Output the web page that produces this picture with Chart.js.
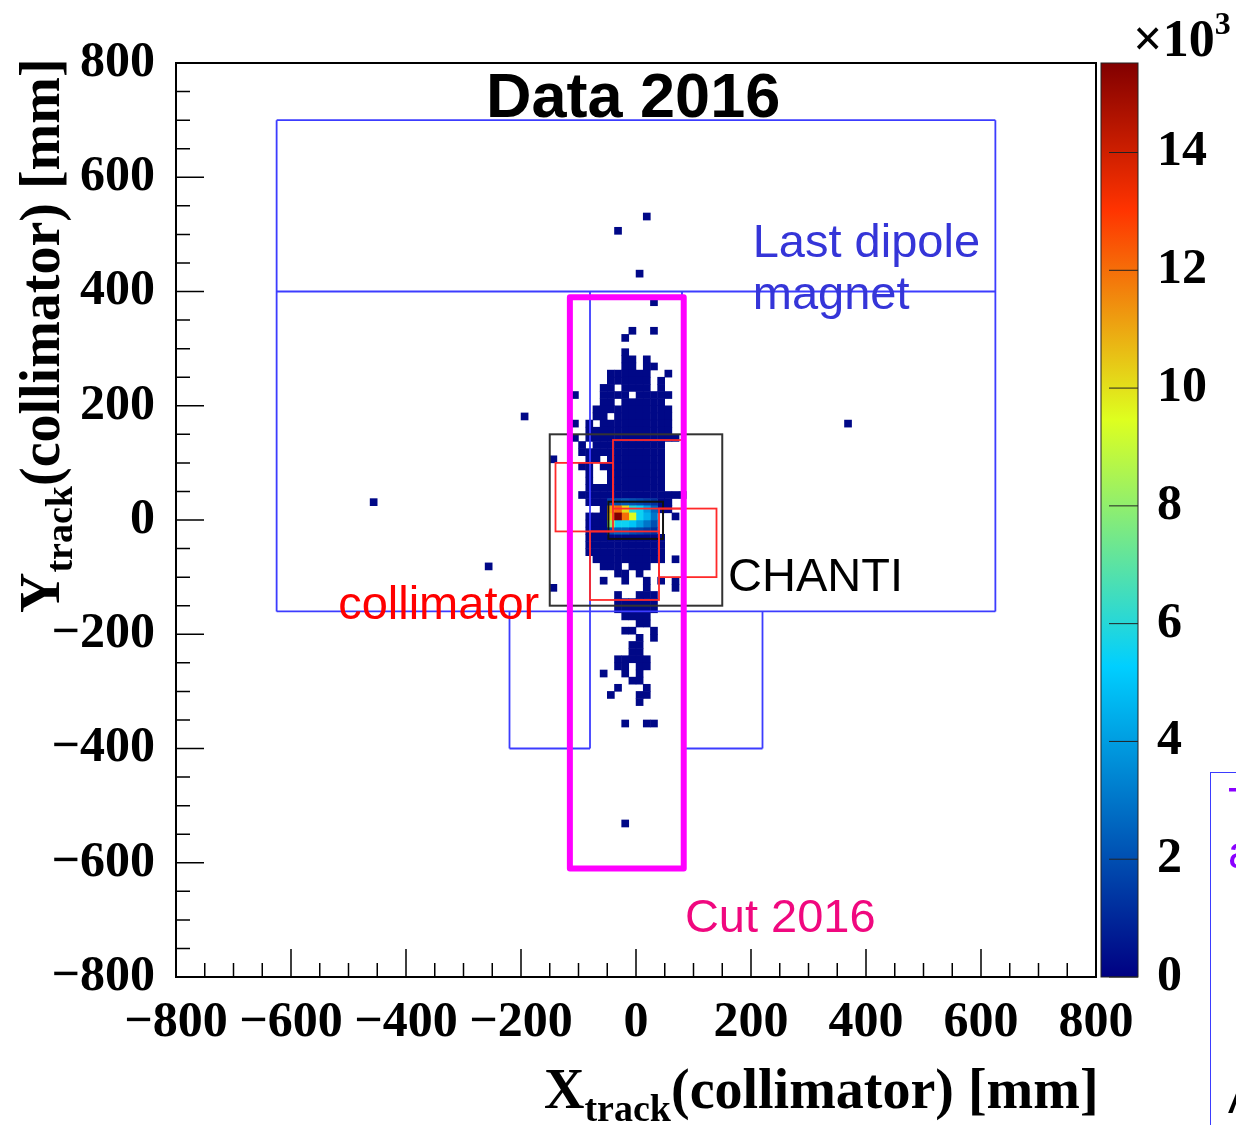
<!DOCTYPE html>
<html>
<head>
<meta charset="utf-8">
<script src="https://cdn.jsdelivr.net/npm/chart.js@4.4.1/dist/chart.umd.min.js"></script>
<style>
  html, body { margin: 0; padding: 0; background: #fff; overflow: hidden; }
  #wrap { position: relative; width: 1236px; height: 1125px; overflow: hidden; }
  #plot { position: absolute; left: 0; top: 0; }
  .serif { position: absolute; white-space: nowrap; color: #000;
           font-family: 'Liberation Serif', 'Times New Roman', serif; font-weight: bold; }
  #ytitle { left: 12px; top: 613px; font-size: 56px; line-height: 56px;
            transform-origin: left top; transform: rotate(-90deg); }
  #xtitle { left: 544px; top: 1061px; font-size: 56px; line-height: 56px; }
  .sub { font-size: 38px; position: relative; top: 13px; }
  #zexp { left: 1133px; top: 1px; font-size: 52px; line-height: 52px; }
  #zexp sup { font-size: 32px; position: relative; top: -4px; }
  #sidebox { position: absolute; left: 1210px; top: 772px; width: 300px; height: 420px;
             border: 1.5px solid #3b3bff; font-family: 'Liberation Sans', Arial, sans-serif; font-size: 46px; }
  #sidebox div { position: absolute; left: 17px; }
</style>
</head>
<body>
<div id="wrap">
  <canvas id="plot" width="1236" height="1125"></canvas>
  <div class="serif" id="ytitle">Y<span class="sub">track</span>(collimator) [mm]</div>
  <div class="serif" id="xtitle">X<span class="sub">track</span>(collimator) [mm]</div>
  <div class="serif" id="zexp">&times;10<sup>3</sup></div>
  <div id="sidebox">
    <div style="top:4px;color:#8a00ff;">T</div>
    <div style="top:52px;color:#8a00ff;">a</div>
    <div style="top:297px;color:#000;">A</div>
  </div>
</div>
<script>
// histogram binning (mm)
const binWidth = 12.5;
const gridLeft = -112.5;   // left edge of the first character column
const gridTopRow = 30;     // bin row index of the first string (row j covers 12.5*j .. 12.5*(j+1))

// occupied low-count bins of the beam spot, rows from top to bottom ('#' = filled)
const occupancy = [
  "...........#.....",
  ".................",
  ".................",
  ".................",
  "........#..#.....",
  ".......#.........",
  ".................",
  ".......#.........",
  ".......##.#......",
  ".......##.##.....",
  ".....######..#...",
  ".....######.#....",
  "....##.####.#....",
  "#...####.#####...",
  "....##.######....",
  "...###########...",
  "...##.########...",
  "#.#.##########...",
  "..############...",
  "#.#############..",
  ".#.##########....",
  ".############....",
  "..##.########....",
  ".##.#########....",
  "..#..########....",
  "..#..########....",
  "..###########....",
  ".###############.",
  "..############...",
  "....##########...",
  "..##########..#..",
  "..##########.....",
  "..##########.....",
  "..###########....",
  "..###########....",
  "..###########....",
  "...##########.#..",
  "....###.###......",
  "......##.#.......",
  "....#..#..#.#.#..",
  "..........#...#..",
  "......#..###.....",
  "......######.....",
  "......######.....",
  ".......####......",
  ".........##......",
  ".......##..#.....",
  ".........#.#.....",
  "........##.......",
  "........##.......",
  "......#####......",
  "......##.##......",
  "....#..#.#.......",
  "........##.......",
  "......#...#......",
  ".....#...##......",
  ".........#.......",
  ".................",
  ".................",
  ".......#..##....."
];
const lowCount = 0.2; // x10^3 entries in a sparse bin

// hot spot near the origin (x10^3 entries)
const hotX = [-43.75, -31.25, -18.75, -6.25, 6.25, 18.75, 31.25];
const hotY = [31.25, 18.75, 6.25, -6.25, -18.75];
const hotCounts = [
  [1.6, 1.9, 2.2, 2.0, 1.8, 1.5, 1.2],
  [11.0, 12.0, 10.0, 6.0, 5.5, 4.0, 2.5],
  [10.5, 15.5, 12.0, 9.5, 5.5, 4.5, 3.0],
  [8.0, 5.5, 5.5, 5.0, 4.0, 3.0, 2.0],
  [2.0, 2.5, 2.5, 2.0, 1.8, 1.5, 1.2]
];

// isolated single bins away from the spot
const strayX = [18.75, -31.25, 6.25, -193.75, 368.75, -456.25, -256.25, -18.75, -143.75, -143.75];
const strayY = [531.25, 506.25, 431.25, 181.25, 168.75, 31.25, -81.25, -531.25, 106.25, -118.75];

const zMax = 15.52;
const axisTicks = [-800, -600, -400, -200, 0, 200, 400, 600, 800];

// detector outlines (mm)
const magnetLines = [
  [-625, 700, 625, 700], [625, 700, 625, -160], [625, -160, -625, -160], [-625, -160, -625, 700],
  [-625, 400, 625, 400],
  [-80, 400, -80, -400], [80, 400, 80, -400],
  [-220, -160, -220, -400], [-220, -400, -80, -400],
  [220, -160, 220, -400], [220, -400, 80, -400]
];
const chantiBox = [-150, -150, 150, 150];
const spotBox = [-48, -33, 47, 32];
const collimatorJaws = [[-40, 20, 80, 140], [40, -100, 140, 20], [-80, -140, 40, -20], [-140, -20, -40, 100]];
const cutBox = [-115, -610, 83, 390];

// ROOT style rainbow palette
const palStops = [0.00, 0.34, 0.61, 0.84, 1.00];
const palR = [0.00, 0.00, 0.87, 1.00, 0.51];
const palG = [0.00, 0.81, 1.00, 0.20, 0.00];
const palB = [0.51, 1.00, 0.12, 0.00, 0.00];

function palette(t) {
  t = Math.max(0, Math.min(1, t));
  let i = 0;
  while (i < palStops.length - 2 && t > palStops[i + 1]) i++;
  const f = (t - palStops[i]) / (palStops[i + 1] - palStops[i]);
  const c = arr => Math.round(255 * (arr[i] + (arr[i + 1] - arr[i]) * f));
  return `rgb(${c(palR)},${c(palG)},${c(palB)})`;
}

// build the list of bins
const cells = new Map();
occupancy.forEach((row, r) => {
  const j = gridTopRow - r;
  for (let i = 0; i < row.length; i++) {
    if (row[i] !== '#') continue;
    const x = gridLeft + binWidth * i + binWidth / 2;
    const y = binWidth * j + binWidth / 2;
    cells.set(x + ',' + y, { x, y, v: lowCount });
  }
});
strayX.forEach((x, n) => cells.set(x + ',' + strayY[n], { x, y: strayY[n], v: lowCount }));
hotY.forEach((y, r) => hotX.forEach((x, c) => cells.set(x + ',' + y, { x, y, v: hotCounts[r][c] })));
const bins = Array.from(cells.values()).sort((a, b) => a.v - b.v);

const serifFont = { family: "'Liberation Serif', 'Times New Roman', serif", weight: 'bold', size: 50 };
const minusFmt = v => (v < 0 ? '\u2212' + Math.abs(v) : '' + v);

// keep the plot frame fixed: no extra room for overhanging tick labels
const noOverhang = s => { s.paddingTop = 0; s.paddingBottom = 0; s.paddingLeft = 0; s.paddingRight = 0; };

const overlay = {
  id: 'overlay',
  afterDatasetsDraw(chart) {
    const { ctx, chartArea: a, scales: { x, y, z } } = chart;
    const px = v => x.getPixelForValue(v);
    const py = v => y.getPixelForValue(v);
    ctx.save();

    // last dipole magnet
    ctx.strokeStyle = '#3c3cff';
    ctx.lineWidth = 1.8;
    ctx.beginPath();
    magnetLines.forEach(s => { ctx.moveTo(px(s[0]), py(s[1])); ctx.lineTo(px(s[2]), py(s[3])); });
    ctx.stroke();

    // CHANTI
    ctx.strokeStyle = '#333';
    ctx.lineWidth = 2;
    ctx.strokeRect(px(chantiBox[0]), py(chantiBox[3]), px(chantiBox[2]) - px(chantiBox[0]), py(chantiBox[1]) - py(chantiBox[3]));
    ctx.strokeStyle = '#111';
    ctx.strokeRect(px(spotBox[0]), py(spotBox[3]), px(spotBox[2]) - px(spotBox[0]), py(spotBox[1]) - py(spotBox[3]));

    // collimator jaws
    ctx.strokeStyle = '#ff2a2a';
    ctx.lineWidth = 1.8;
    collimatorJaws.forEach(b => ctx.strokeRect(px(b[0]), py(b[3]), px(b[2]) - px(b[0]), py(b[1]) - py(b[3])));

    // cut 2016
    ctx.strokeStyle = '#ff00ff';
    ctx.lineWidth = 6;
    ctx.lineJoin = 'round';
    ctx.strokeRect(px(cutBox[0]), py(cutBox[3]), px(cutBox[2]) - px(cutBox[0]), py(cutBox[1]) - py(cutBox[3]));

    // labels
    ctx.textBaseline = 'alphabetic';
    ctx.textAlign = 'center';
    ctx.fillStyle = '#000';
    ctx.font = "bold 63px 'Liberation Sans', Arial, sans-serif";
    ctx.fillText('Data 2016', px(-5), py(705));
    ctx.textAlign = 'left';
    ctx.font = "47px 'Liberation Sans', Arial, sans-serif";
    ctx.fillStyle = '#3535d8';
    ctx.fillText('Last dipole', px(203), py(460));
    ctx.fillText('magnet', px(203), py(370));
    ctx.fillStyle = '#000';
    ctx.fillText('CHANTI', px(160), py(-124));
    ctx.fillStyle = '#ff0000';
    ctx.fillText('collimator', px(-518), py(-173));
    ctx.fillStyle = '#f0087f';
    ctx.fillText('Cut 2016', px(85), py(-721));
    ctx.restore();
  },
  afterDraw(chart) {
    const { ctx, chartArea: a, scales: { x, y, z } } = chart;
    ctx.save();
    // frame
    ctx.strokeStyle = '#000';
    ctx.lineWidth = 2;
    ctx.strokeRect(a.left, a.top, a.right - a.left, a.bottom - a.top);
    // inward ticks on left and bottom axes
    ctx.lineWidth = 1.5;
    ctx.beginPath();
    for (let v = -800; v <= 800; v += 50) {
      const len = v % 200 === 0 ? 28 : 14;
      const yy = y.getPixelForValue(v), xx = x.getPixelForValue(v);
      ctx.moveTo(a.left, yy); ctx.lineTo(a.left + len, yy);
      ctx.moveTo(xx, a.bottom); ctx.lineTo(xx, a.bottom - len);
    }
    ctx.stroke();

    // colour scale
    const x0 = a.right + 5, w = 37;
    const y0 = z.getPixelForValue(0), y1 = z.getPixelForValue(zMax);
    const g = ctx.createLinearGradient(0, y0, 0, y1);
    palStops.forEach(s => g.addColorStop(s, palette(s)));
    ctx.fillStyle = g;
    ctx.fillRect(x0, y1, w, y0 - y1);
    ctx.strokeStyle = '#222';
    ctx.lineWidth = 1;
    ctx.strokeRect(x0, y1, w, y0 - y1);
    ctx.beginPath();
    z.ticks.forEach(t => {
      const yy = z.getPixelForValue(t.value);
      ctx.moveTo(x0 + w, yy); ctx.lineTo(x0 + w - 29, yy);
    });
    ctx.stroke();
    ctx.restore();
  }
};

new Chart(document.getElementById('plot'), {
  type: 'scatter',
  data: {
    datasets: [{
      data: bins,
      pointStyle: 'rect',
      borderWidth: 0,
      radius: c => {
        const s = c.chart.scales.x;
        return s ? (s.getPixelForValue(binWidth) - s.getPixelForValue(0)) * Math.SQRT1_2 + 0.35 : 5;
      },
      backgroundColor: c => palette((c.raw ? c.raw.v : 0) / zMax)
    }]
  },
  options: {
    responsive: false,
    animation: false,
    events: [],
    layout: { padding: { top: 63, right: 0, bottom: 0, left: 0 } },
    plugins: { legend: { display: false }, tooltip: { enabled: false } },
    scales: {
      x: {
        type: 'linear', min: -800, max: 800,
        grid: { display: false, drawTicks: false }, border: { display: false },
        afterBuildTicks: s => { s.ticks = axisTicks.map(v => ({ value: v })); },
        afterFit: s => { s.height = 148; noOverhang(s); },
        ticks: { autoSkip: false, maxRotation: 0, padding: 16, color: '#000', font: serifFont, callback: minusFmt }
      },
      y: {
        type: 'linear', min: -800, max: 800,
        grid: { display: false, drawTicks: false }, border: { display: false },
        afterBuildTicks: s => { s.ticks = axisTicks.map(v => ({ value: v })); },
        afterFit: s => { s.width = 176; noOverhang(s); },
        ticks: { autoSkip: false, padding: 21, color: '#000', font: serifFont, callback: minusFmt }
      },
      z: {
        axis: 'y', position: 'right', type: 'linear', min: 0, max: zMax,
        grid: { display: false, drawTicks: false }, border: { display: false },
        afterFit: s => { s.width = 140; noOverhang(s); },
        ticks: { stepSize: 2, includeBounds: false, autoSkip: false, padding: 61, color: '#000', font: serifFont }
      }
    }
  },
  plugins: [overlay]
});
</script>
</body>
</html>
